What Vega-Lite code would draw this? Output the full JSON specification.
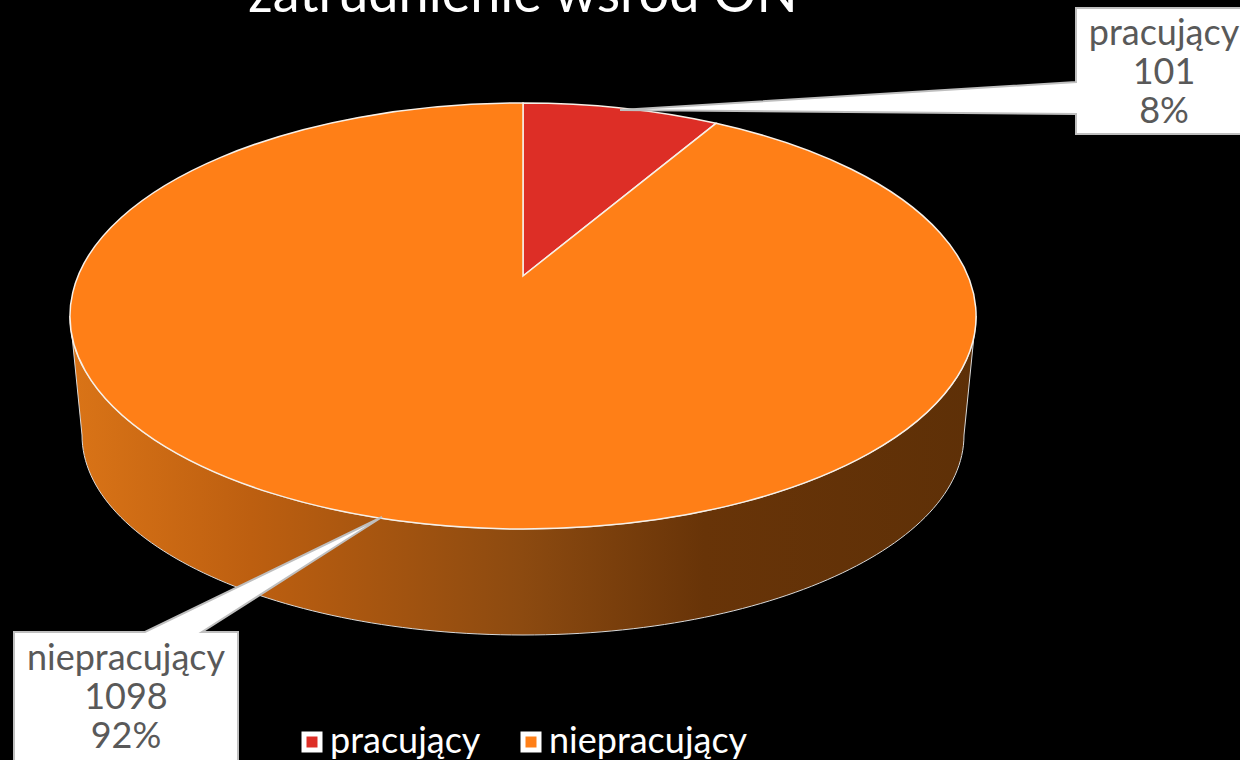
{
  "$schema": "https://vega.github.io/schema/vega-lite/v6.json",
  "width": 1046,
  "height": 632,
  "autosize": {"type": "none"},
  "padding": {"left": 0, "top": 0, "right": 194, "bottom": 128},
  "background": "#000000",
  "config": {"view": {"stroke": null}, "font": "Lato"},
  "data": {"values": [
    {"slice": "pracujący", "value": 101, "share": "8%"},
    {"slice": "niepracujący", "value": 1098, "share": "92%"}
  ]},
  "layer": [
    {
      "data": {"values": [{"chartTitle": "zatrudnienie wśród ON"}]},
      "mark": {"type": "text", "baseline": "alphabetic", "fontSize": 54, "font": "Lato", "color": "#FFFFFF"},
      "encoding": {
        "y": {"field": "chartTitle", "type": "nominal", "axis": null, "scale": {"type": "point", "padding": 0, "range": [12, 12]}},
        "text": {"field": "chartTitle", "type": "nominal"}
      }
    },
    {
      "transform": [{"filter": "datum.slice === 'niepracujący'"}],
      "mark": {
        "type": "point", "filled": true, "opacity": 1, "size": 4,
        "shape": "M -453 0 A 453 213 0 0 0 453 0 L 441 119 A 441 200 0 0 1 -441 119 Z",
        "stroke": "#D9D9D9", "strokeWidth": 1,
        "fill": {"x1": 0, "y1": 0, "x2": 1, "y2": 0, "gradient": "linear", "stops": [
          {"offset": 0, "color": "#DA7417"},
          {"offset": 0.2, "color": "#BD5F10"},
          {"offset": 0.5, "color": "#8C4A10"},
          {"offset": 0.7, "color": "#683408"},
          {"offset": 1, "color": "#5E3007"}
        ]}
      },
      "encoding": {}
    },
    {
      "mark": {"type": "point", "filled": true, "opacity": 1, "size": 4, "stroke": "#F7F0E8", "strokeWidth": 1.5},
      "encoding": {
        "fill": {
          "field": "slice", "type": "nominal",
          "scale": {"domain": ["pracujący", "niepracujący"], "range": ["#DD2E26", "#FF7F17"]},
          "legend": {
            "orient": "none", "legendX": 294, "legendY": 724, "direction": "horizontal", "title": null,
            "symbolType": "square", "symbolSize": 256, "symbolStrokeColor": "#FFFFFF", "symbolStrokeWidth": 5,
            "labelColor": "#FFFFFF", "labelFontSize": 36, "labelFont": "Lato", "labelOffset": 0, "columnPadding": 32, "labelLimit": 300,
            "encode": {"symbols": {"update": {"strokeJoin": {"value": "round"}}}}
          }
        },
        "shape": {
          "field": "slice", "type": "nominal",
          "scale": {"domain": ["pracujący", "niepracujący"], "range": [
            "M 0 -40 L 0 -213 A 453 213 0 0 1 193 -192.7 Z",
            "M 0 -40 L 193 -192.7 A 453 213 0 1 1 0 -213 Z"
          ]},
          "legend": null
        }
      }
    },
    {
      "mark": {"type": "point", "filled": true, "opacity": 1, "size": 4, "fill": "#FFFFFF", "stroke": "#BFBFBF", "strokeWidth": 2},
      "encoding": {
        "x": {"field": "slice", "type": "nominal", "axis": null, "scale": {"type": "point", "padding": 0, "domain": ["pracujący", "niepracujący"], "range": [1164, 126]}},
        "y": {"field": "slice", "type": "nominal", "axis": null, "scale": {"type": "point", "padding": 0, "domain": ["pracujący", "niepracujący"], "range": [72, 697]}},
        "shape": {
          "field": "slice", "type": "nominal",
          "scale": {"domain": ["pracujący", "niepracujący"], "range": [
            "M -88 -64 L 90 -64 L 90 62 L -88 62 L -88 42 L -544 38 L -88 10 Z",
            "M -112 -65 L 19 -65 L 256 -180 L 76 -65 L 112 -65 L 112 70 L -112 70 Z"
          ]},
          "legend": null
        }
      }
    },
    {
      "mark": {"type": "text", "dy": -38, "fontSize": 36, "font": "Lato", "color": "#595959"},
      "encoding": {
        "x": {"field": "slice", "type": "nominal", "axis": null, "scale": {"type": "point", "padding": 0, "domain": ["pracujący", "niepracujący"], "range": [1164, 126]}},
        "y": {"field": "slice", "type": "nominal", "axis": null, "scale": {"type": "point", "padding": 0, "domain": ["pracujący", "niepracujący"], "range": [72, 697]}},
        "text": {"field": "slice", "type": "nominal"}
      }
    },
    {
      "mark": {"type": "text", "dy": 1, "fontSize": 36, "font": "Lato", "color": "#595959"},
      "encoding": {
        "x": {"field": "slice", "type": "nominal", "axis": null, "scale": {"type": "point", "padding": 0, "domain": ["pracujący", "niepracujący"], "range": [1164, 126]}},
        "y": {"field": "slice", "type": "nominal", "axis": null, "scale": {"type": "point", "padding": 0, "domain": ["pracujący", "niepracujący"], "range": [72, 697]}},
        "text": {"field": "value", "type": "quantitative"}
      }
    },
    {
      "mark": {"type": "text", "dy": 40, "fontSize": 36, "font": "Lato", "color": "#595959"},
      "encoding": {
        "x": {"field": "slice", "type": "nominal", "axis": null, "scale": {"type": "point", "padding": 0, "domain": ["pracujący", "niepracujący"], "range": [1164, 126]}},
        "y": {"field": "slice", "type": "nominal", "axis": null, "scale": {"type": "point", "padding": 0, "domain": ["pracujący", "niepracujący"], "range": [72, 697]}},
        "text": {"field": "share", "type": "nominal"}
      }
    }
  ],
  "resolve": {"scale": {"shape": "independent", "y": "independent"}}
}
